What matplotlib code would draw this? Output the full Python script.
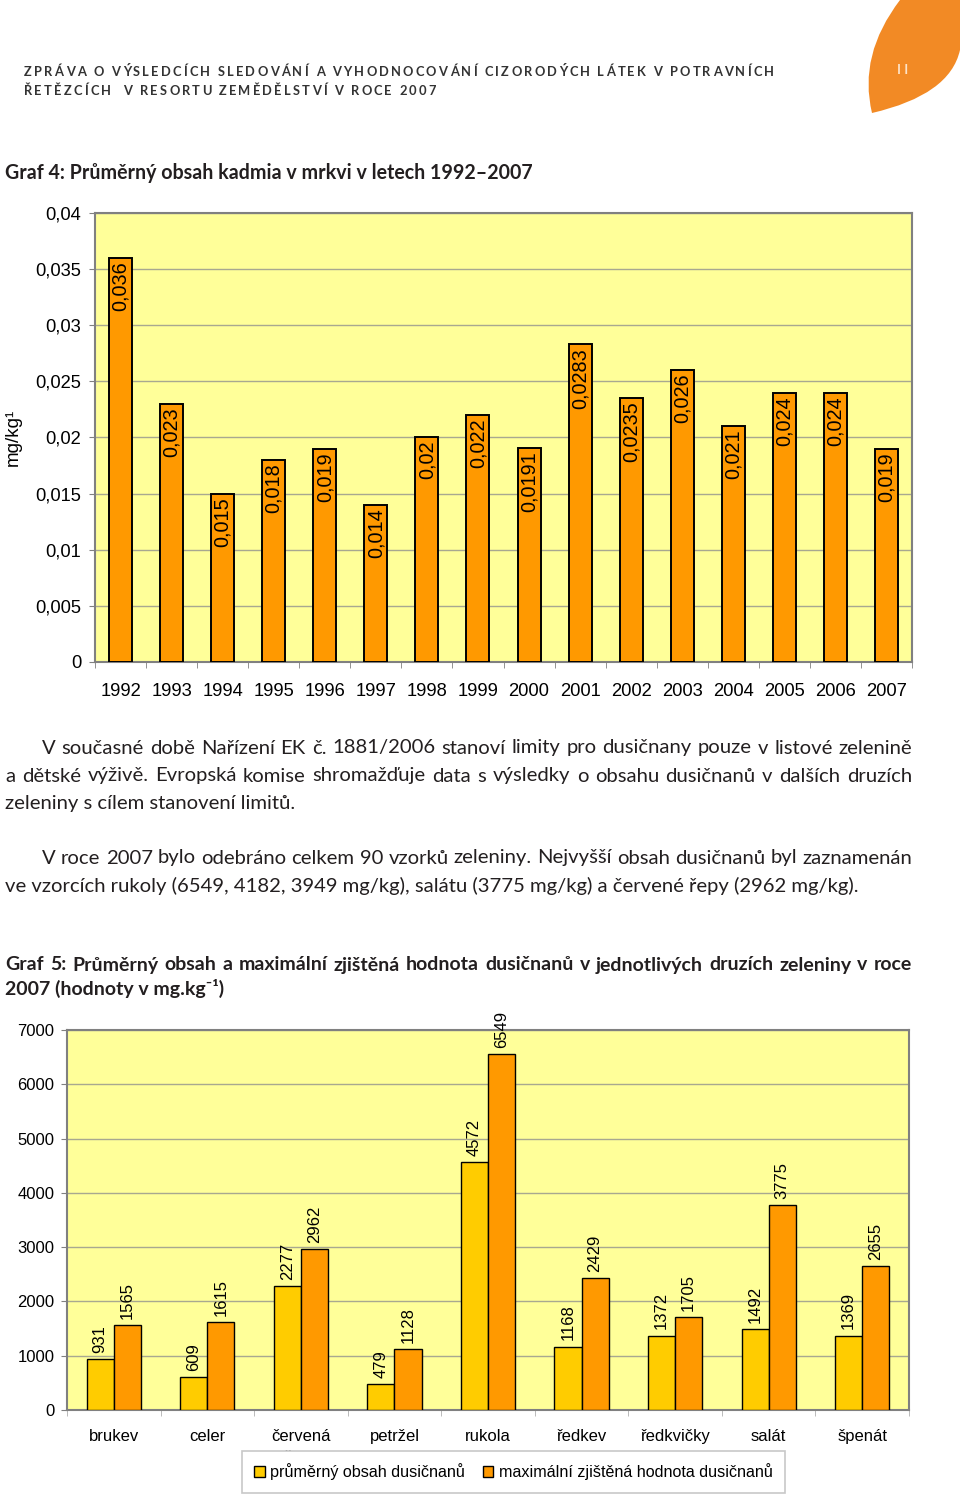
import matplotlib
matplotlib.use('Agg')
import matplotlib.pyplot as plt
from matplotlib.path import Path
from matplotlib.patches import PathPatch, Patch
import numpy as np

# Graf 4 - kadmium v mrkvi
years = ['1992', '1993', '1994', '1995', '1996', '1997', '1998', '1999',
         '2000', '2001', '2002', '2003', '2004', '2005', '2006', '2007']
cd_values = [0.036, 0.023, 0.015, 0.018, 0.019, 0.014, 0.02, 0.022,
             0.0191, 0.0283, 0.0235, 0.026, 0.021, 0.024, 0.024, 0.019]
cd_labels = ['0,036', '0,023', '0,015', '0,018', '0,019', '0,014', '0,02', '0,022',
             '0,0191', '0,0283', '0,0235', '0,026', '0,021', '0,024', '0,024', '0,019']
cd_yticks = [0, 0.005, 0.01, 0.015, 0.02, 0.025, 0.03, 0.035, 0.04]
cd_yticklabels = ['0', '0,005', '0,01', '0,015', '0,02', '0,025', '0,03', '0,035', '0,04']

# Graf 5 - dusicnany
vegetables = ['brukev', 'celer', 'červená\nřepa', 'petržel', 'rukola',
              'ředkev', 'ředkvičky', 'salát', 'špenát']
no3_mean = [931, 609, 2277, 479, 4572, 1168, 1372, 1492, 1369]
no3_max = [1565, 1615, 2962, 1128, 6549, 2429, 1705, 3775, 2655]
no3_yticks = [0, 1000, 2000, 3000, 4000, 5000, 6000, 7000]

W, H = 960, 1494
fig = plt.figure(figsize=(W / 100, H / 100), dpi=100)
fig.patch.set_facecolor('white')
r = fig.canvas.get_renderer()

BODY = ['Lato', 'DejaVu Sans']
CHART = ['Liberation Sans', 'DejaVu Sans']
YELLOW = '#FFFF99'
ORANGE = '#FF9900'
GOLD = '#FFCC00'
GRID = '#A8A890'
BORDER = '#808080'
INK = '#231f20'


def fx(px):
    return px / W


def fy(py):
    return 1 - py / H


def width_of(s, **kw):
    t = fig.text(0, 0, s, **kw)
    w = t.get_window_extent(r).width
    t.remove()
    return w


def justify(text, x0, x1, y, fontsize, **kw):
    # rozlozi slova mezi x0 a x1 (zarovnani do bloku)
    words = text.split(' ')
    while True:
        widths = [width_of(w, fontsize=fontsize, **kw) for w in words]
        space = width_of('a a', fontsize=fontsize, **kw) - width_of('aa', fontsize=fontsize, **kw)
        if sum(widths) + space * 0.8 * (len(words) - 1) <= x1 - x0:
            break
        fontsize -= 0.1
    gap = (x1 - x0 - sum(widths)) / (len(words) - 1)
    x = x0
    for w, wd in zip(words, widths):
        fig.text(fx(x), fy(y), w, va='center', ha='left', fontsize=fontsize, **kw)
        x += wd + gap


def tracked(text, x0, x1, y, **kw):
    # prostrkane pismo hlavicky
    base = width_of('||', **kw)
    widths = [width_of('|' + c + '|', **kw) - base for c in text]
    track = (x1 - x0 - sum(widths)) / (len(text) - 1)
    x = x0
    for c, wd in zip(text, widths):
        if c != ' ':
            fig.text(fx(x), fy(y), c, va='center', ha='left', **kw)
        x += wd + track


# hlavicka stranky
tracked('ZPRÁVA O VÝSLEDCÍCH SLEDOVÁNÍ A VYHODNOCOVÁNÍ CIZORODÝCH LÁTEK V POTRAVNÍCH',
        24, 774, 72, family=BODY, fontsize=9.3, fontweight='bold', color='#333333')
tracked('ŘETĚZCÍCH  V RESORTU ZEMĚDĚLSTVÍ V ROCE 2007',
        24, 436, 91, family=BODY, fontsize=9.3, fontweight='bold', color='#333333')

# oranzovy list v rohu
leaf = [(900, 0), (960, 0), (960, 50), (950, 95), (872, 113), (858, 55), (900, 0)]
codes = [Path.MOVETO, Path.LINETO, Path.LINETO, Path.CURVE3, Path.CURVE3, Path.CURVE3, Path.CURVE3]
verts = [(fx(a), fy(b)) for a, b in leaf]
fig.patches.append(PathPatch(Path(verts, codes), transform=fig.transFigure,
                             facecolor='#F28A25', edgecolor='none'))
fig.text(fx(903), fy(70), 'I I', family=BODY, fontsize=9.5, color='#fde3c8',
         ha='center', va='center', fontweight='bold')

# titulky a text
fig.text(fx(5), fy(173), 'Graf 4: Průměrný obsah kadmia v mrkvi v letech 1992–2007',
         family=BODY, fontsize=14.1, fontweight='bold', color=INK, va='center')

justify('V současné době Nařízení EK č. 1881/2006 stanoví limity pro dusičnany pouze v listové zelenině',
        42, 912, 748, 14.6, family=BODY, color=INK)
justify('a dětské výživě. Evropská komise shromažďuje data s výsledky o obsahu dusičnanů v dalších druzích',
        5, 912, 776, 14.6, family=BODY, color=INK)
fig.text(fx(5), fy(803), 'zeleniny s cílem stanovení limitů.', family=BODY, fontsize=14.6,
         color=INK, va='center')
justify('V roce 2007 bylo odebráno celkem 90 vzorků zeleniny. Nejvyšší obsah dusičnanů byl zaznamenán',
        42, 912, 858, 14.6, family=BODY, color=INK)
fig.text(fx(5), fy(886), 've vzorcích rukoly (6549, 4182, 3949 mg/kg), salátu (3775 mg/kg) a červené řepy (2962 mg/kg).',
         family=BODY, fontsize=14.6, color=INK, va='center')

justify('Graf 5: Průměrný obsah a maximální zjištěná hodnota dusičnanů v jednotlivých druzích zeleniny v roce',
        5, 912, 965, 14.0, family=BODY, fontweight='bold', color=INK)
fig.text(fx(5), fy(988), '2007 (hodnoty v mg.kg⁻¹)', family=BODY, fontsize=14.0,
         fontweight='bold', color=INK, va='center')

# ---- Graf 4 ----
ax1 = fig.add_axes([fx(95), fy(662), fx(912) - fx(95), fy(213) - fy(662)])
ax1.set_facecolor(YELLOW)
x1 = np.arange(len(years))
ax1.bar(x1, cd_values, width=0.45, color=ORANGE, edgecolor='black', linewidth=1.4, zorder=3)
for xi, v, lab in zip(x1, cd_values, cd_labels):
    ax1.annotate(lab, (xi, v), xytext=(0, -2.5), textcoords='offset points', rotation=90,
                 ha='center', va='top', fontsize=14.3, family=CHART, zorder=4)
ax1.set_xlim(-0.5, len(years) - 0.5)
ax1.set_ylim(0, 0.04)
ax1.set_yticks(cd_yticks)
ax1.set_yticklabels(cd_yticklabels)
ax1.set_xticks(x1)
ax1.set_xticklabels(years)
ax1.set_xticks(np.arange(len(years) + 1) - 0.5, minor=True)
ax1.yaxis.grid(True, color=GRID, linewidth=1, zorder=0)
ax1.set_axisbelow(True)
ax1.tick_params(axis='x', which='major', length=0, pad=15, labelsize=13.2)
ax1.tick_params(axis='x', which='minor', length=4, color=BORDER, direction='out')
ax1.tick_params(axis='y', length=4, color=BORDER, pad=6, labelsize=13.2)
for lab in ax1.get_xticklabels() + ax1.get_yticklabels():
    lab.set_family(CHART)
for s in ax1.spines.values():
    s.set_color(BORDER)
    s.set_linewidth(1.5)
ax1.set_ylabel('mg/kg¹', family=CHART, fontsize=13.5, va='center')
ax1.yaxis.set_label_coords((13 - 95) / (912 - 95), 0.5)

# ---- Graf 5 ----
ax2 = fig.add_axes([fx(67), fy(1410), fx(909) - fx(67), fy(1030) - fy(1410)])
ax2.set_facecolor(YELLOW)
x2 = np.arange(len(vegetables))
bw = 0.29
ax2.bar(x2 - bw / 2, no3_mean, width=bw, color=GOLD, edgecolor='black', linewidth=1, zorder=3,
        label='průměrný obsah dusičnanů')
ax2.bar(x2 + bw / 2, no3_max, width=bw, color=ORANGE, edgecolor='black', linewidth=1, zorder=3,
        label='maximální zjištěná hodnota dusičnanů')
for xi, a, b in zip(x2, no3_mean, no3_max):
    ax2.annotate(str(a), (xi - bw / 2, a), xytext=(0, 4.5), textcoords='offset points', rotation=90,
                 ha='center', va='bottom', fontsize=12, family=CHART, zorder=4, annotation_clip=False)
    ax2.annotate(str(b), (xi + bw / 2, b), xytext=(0, 4.5), textcoords='offset points', rotation=90,
                 ha='center', va='bottom', fontsize=12, family=CHART, zorder=4, annotation_clip=False)
ax2.set_xlim(-0.5, len(vegetables) - 0.5)
ax2.set_ylim(0, 7000)
ax2.set_yticks(no3_yticks)
ax2.set_xticks(x2)
ax2.set_xticklabels(vegetables, va='top', linespacing=1.45)
ax2.set_xticks(np.arange(len(vegetables) + 1) - 0.5, minor=True)
ax2.yaxis.grid(True, color=GRID, linewidth=1, zorder=0)
ax2.set_axisbelow(True)
ax2.tick_params(axis='x', which='major', length=0, pad=14, labelsize=12)
ax2.tick_params(axis='x', which='minor', length=4, color='#b0b0b0', direction='out')
ax2.tick_params(axis='y', length=4, color=BORDER, pad=5, labelsize=12)
for lab in ax2.get_xticklabels() + ax2.get_yticklabels():
    lab.set_family(CHART)
for s in ax2.spines.values():
    s.set_color(BORDER)
    s.set_linewidth(1.5)

handles = [Patch(facecolor=GOLD, edgecolor='black', linewidth=1),
           Patch(facecolor=ORANGE, edgecolor='black', linewidth=1)]
leg = fig.legend(handles, ['průměrný obsah dusičnanů', 'maximální zjištěná hodnota dusičnanů'],
                 loc='center', bbox_to_anchor=(fx(513.5), fy(1472)), ncol=2, frameon=True,
                 fancybox=False, edgecolor='#c8c8c8', facecolor='white', framealpha=1,
                 prop={'family': CHART, 'size': 11.6}, handlelength=0.65, handleheight=0.65,
                 handletextpad=0.35, columnspacing=1.1, borderpad=0.75, borderaxespad=0)
leg.get_frame().set_linewidth(1.2)
leg.set_zorder(10)

fig.savefig('out.png', dpi=100, facecolor='white')
